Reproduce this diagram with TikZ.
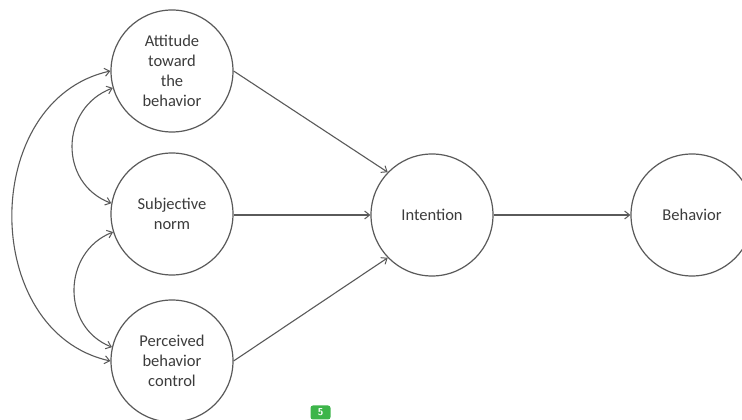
\documentclass[tikz,border=0pt]{standalone}
\usepackage{fontspec}
\setmainfont{Carlito}
\usetikzlibrary{arrows.meta}
\definecolor{ln}{HTML}{5A5A5A}
\definecolor{tx}{HTML}{3C3C3C}
\definecolor{badge}{HTML}{3DB54A}
\begin{document}
\begin{tikzpicture}[x=1pt,y=1pt,
  concept/.style={circle,draw=ln,line width=1.2pt,minimum size=122pt,inner sep=0pt,
    align=center,text=tx,font=\fontsize{16.5}{20}\selectfont},
  link/.style={draw=ln,line width=1.1pt,-{Straight Barb[length=5pt,width=8pt,line width=1pt]}},
  corr/.style={draw=ln,line width=1.1pt,{Straight Barb[length=5pt,width=8pt,line width=1pt]}-{Straight Barb[length=5pt,width=8pt,line width=1pt]}}]
\useasboundingbox[fill=white] (0,0) rectangle (742,420);
\node[concept] (att) at (172,349) {Attitude\\toward\\the\\behavior};
\node[concept] (sub) at (172,206) {Subjective\\norm};
\node[concept] (pbc) at (172,59) {Perceived\\behavior\\control};
\node[concept] (int) at (432,205) {Intention};
\node[concept] (beh) at (692,205) {Behavior};
\draw[link] (att.east) -- (int.136);
\draw[link] (sub.east |- int.west) -- (int.west);
\draw[link] (pbc.east) -- (int.224);
\draw[link] (int.east) -- (beh.west);
\draw[corr] (att.180) .. controls +(-131,-29) and +(-131,29) .. (pbc.180);
\draw[corr] (att.196) .. controls +(-53,-20) and +(-53,20) .. (sub.170);
\draw[corr] (sub.197) .. controls +(-51,-20) and +(-51,20) .. (pbc.167);
\node[fill=badge,rounded corners=2.5pt,minimum width=20pt,minimum height=14pt,inner sep=0pt,
  text=white,font=\sffamily\bfseries\fontsize{10}{10}\selectfont] (badge) at (320.5,7.5) {5};
\end{tikzpicture}
\end{document}
